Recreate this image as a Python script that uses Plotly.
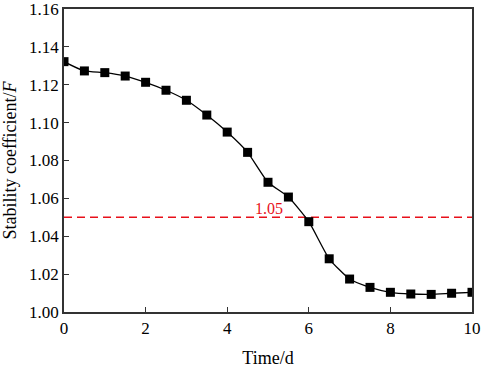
import plotly.graph_objects as go

time_d = [0, 0.5, 1, 1.5, 2, 2.5, 3, 3.5, 4, 4.5, 5, 5.5, 6, 6.5, 7, 7.5, 8, 8.5, 9, 9.5, 10]
stability = [1.1322, 1.1273, 1.1264, 1.1246, 1.1213, 1.1171, 1.1118, 1.1040, 1.0950, 1.0843,
             1.0685, 1.0607, 1.0477, 1.0281, 1.0174, 1.0130, 1.0104, 1.0095, 1.0093, 1.0099, 1.0104]
threshold = 1.05
threshold_label = "1.05"

FONT = "Liberation Serif"

fig = go.Figure()
fig.add_trace(go.Scatter(
    x=[0, 10], y=[threshold, threshold], mode="lines",
    line=dict(color="#e8101a", width=1.5, dash="8px,5px"), showlegend=False, hoverinfo="skip"))
fig.add_trace(go.Scatter(
    x=time_d, y=stability, mode="lines+markers",
    line=dict(color="black", width=1.3, shape="spline", smoothing=0.5),
    marker=dict(symbol="square", size=9, color="black"),
    showlegend=False))
fig.add_annotation(x=5.03, y=threshold, text=threshold_label, showarrow=False,
                   yanchor="bottom", yshift=-2,
                   font=dict(family=FONT, size=16, color="#e8101a"))

axis_common = dict(showgrid=False, zeroline=False, showline=True, linecolor="#333",
                   linewidth=1.5, mirror=True, ticks="inside", ticklen=5, tickwidth=1.3,
                   tickcolor="#333", automargin=False, ticklabeloverflow="allow",
                   tickfont=dict(family=FONT, size=17, color="black"))
fig.update_xaxes(range=[0, 10], dtick=2,
                 title=dict(text="Time/d", font=dict(family=FONT, size=18, color="black"), standoff=14),
                 **axis_common)
fig.update_yaxes(range=[1.0, 1.16], dtick=0.02, tickformat=".2f",
                 title=dict(text="Stability coefficient/<i>F</i>", font=dict(family=FONT, size=18, color="black"), standoff=12),
                 **axis_common)
fig.update_layout(width=484, height=368, margin=dict(l=64, r=12, t=9, b=56),
                  plot_bgcolor="white", paper_bgcolor="white")
fig.write_html("out.html", config={"displayModeBar": False},
               post_script="document.body.style.margin='0';document.body.style.overflow='hidden';")
